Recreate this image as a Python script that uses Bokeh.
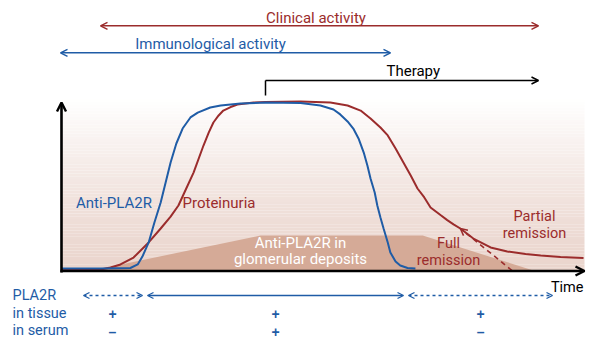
import numpy as np
from bokeh.plotting import figure
from bokeh.models import Range1d, Arrow, OpenHead, Label, ColumnDataSource
from bokeh.embed import file_html
from bokeh.resources import INLINE

# ---------------- data (time 0..100, level 0..100) ----------------
anti_time = [0, 7.5, 13.2, 14.6, 15.5, 16.7, 17.8, 19.0, 20.9, 22.0, 23.2, 24.7, 26.1,
             28.5, 30.5, 34.3, 39.1, 45.8, 49.6, 52.1, 53.4, 54.8, 55.9, 56.9, 57.9,
             58.6, 59.2, 60.0, 60.5, 61.1, 61.7, 62.5, 63.0, 64.0, 64.9, 66.3, 67.8]
anti_level = [1.2, 1.2, 1.5, 3.6, 8.3, 16.7, 28.6, 40.5, 64.3, 75.6, 84.5, 91.1, 94.0,
              97.0, 98.2, 99.4, 100, 99.7, 98.2, 95.8, 92.9, 88.7, 84.5, 78.6, 70.2,
              62.5, 54.8, 46.4, 38.7, 31.5, 25.0, 16.7, 10.7, 5.4, 3.0, 1.5, 1.2]

prot_time = [0, 7.5, 9.4, 11.3, 13.8, 16.7, 19.0, 20.9, 22.4, 23.9, 25.3, 27.2, 28.2,
             29.1, 30.1, 31.0, 32.4, 33.7, 36.8, 39.1, 45.8, 51.5, 54.8, 57.3, 59.2,
             61.1, 62.5, 64.0, 65.5, 66.9, 68.2, 69.5, 70.7, 72.6, 73.9, 75.1, 76.4,
             78.9, 82.2, 85.4, 88.9, 91.8, 95.6, 100]
prot_level = [0.3, 0.6, 1.8, 3.6, 7.7, 16.7, 25.0, 32.1, 38.7, 48.8, 58.3, 74.4, 82.1,
              88.1, 92.3, 95.2, 97.3, 98.8, 100, 100.3, 100.6, 100, 98.2, 95.2, 90.5,
              85.1, 80.4, 72.6, 64.3, 56.5, 48.8, 43.5, 37.5, 33.0, 30.0, 27.5, 25.0,
              19.0, 13.7, 11.3, 9.8, 8.9, 8.0, 7.4]

full_remission_time = [76.4, 86.3]
full_remission_level = [25.0, 0.0]

deposit_time = [5.9, 38.1, 69.2, 90.4]
deposit_level = [0, 20.8, 20.8, 0]

tissue_marks = ["+", "+", "+"]
serum_marks = ["\u2013", "+", "\u2013"]
mark_time = [9.77, 41.0, 80.3]

# ---------------- layout helpers (pixel -> data) ----------------
X0, XS = 61.0, 5.22
Y0, YS = 270.0, 1.68
def X(px): return (px - X0) / XS
def Y(py): return (Y0 - py) / YS

RED = "#9b2c2c"
BLUE = "#1f5ca6"
DEP = "#d5aa97"
FONT = "Roboto"
LOFF = 4.5  # label baseline correction in px

p = figure(width=600, height=356, output_backend="svg", toolbar_location=None,
           x_range=Range1d(X(0), X(600)), y_range=Range1d(Y(356), Y(0)),
           min_border=0, min_border_left=0, min_border_right=0,
           min_border_top=0, min_border_bottom=0)
p.axis.visible = False
p.grid.visible = False
p.outline_line_color = None
p.background_fill_color = "white"
p.border_fill_color = "white"

# background gradient
n = 60
edges = np.linspace(0, 102, n + 1)
bot = np.array([234, 213, 205])
cols = []
for i in range(n):
    f = (edges[i] + edges[i + 1]) / 2 / 102.0
    w = f ** 1.3
    c = bot + (np.array([255, 255, 255]) - bot) * w
    cols.append("#%02x%02x%02x" % tuple(int(round(v)) for v in c))
p.quad(left=X(61), right=X(584), bottom=edges[:-1], top=edges[1:],
       fill_color=cols, line_color=None)

# deposits
p.patch(deposit_time, deposit_level, fill_color=DEP, line_color=None)

def lab(x, ypx, t, color, size="14.5px", align="center"):
    p.add_layout(Label(x=x, y=Y(ypx - LOFF), text=t, text_color=color, text_font=FONT,
                       text_font_size=size, text_align=align, text_baseline="alphabetic"))

lab(X(300), 247, "Anti-PLA2R in", "white", size="15px")
lab(X(300), 263, "glomerular deposits", "white", size="15px")

# curves
p.line(prot_time, prot_level, line_color=RED, line_width=2)
p.line(anti_time, anti_level, line_color=BLUE, line_width=2)
p.add_layout(Arrow(x_start=full_remission_time[1], y_start=full_remission_level[1],
                   x_end=full_remission_time[0], y_end=full_remission_level[0],
                   line_color=RED, line_width=1.6, line_dash="5 4",
                   end=OpenHead(size=7, line_color=RED, line_width=1.5)))

# axes
p.add_layout(Arrow(x_start=X(61), y_start=Y(272), x_end=X(61), y_end=Y(102),
                   line_color="black", line_width=2.6,
                   end=OpenHead(size=9, line_color="black", line_width=2.4)))
p.add_layout(Arrow(x_start=X(60), y_start=Y(270.5), x_end=X(584), y_end=Y(270.5),
                   line_color="black", line_width=2.6,
                   end=OpenHead(size=9, line_color="black", line_width=2.4)))
lab(X(583), 291, "Time", "black", align="right")

# top arrows
def darrow(x1, x2, y, color, dash="solid", lw=1.5, size=7):
    p.add_layout(Arrow(x_start=x1, y_start=y, x_end=x2, y_end=y,
                       line_color=color, line_width=lw, line_dash=dash,
                       start=OpenHead(size=size, line_color=color, line_width=lw),
                       end=OpenHead(size=size, line_color=color, line_width=lw)))

darrow(X(100), X(538), Y(25.3), RED)
lab(X(315.5), 21.5, "Clinical activity", RED, size="15px")
darrow(X(60), X(390), Y(52.3), BLUE)
lab(X(210), 48.3, "Immunological activity", BLUE, size="15px")

# therapy
p.line([X(265), X(265)], [Y(95), Y(80)], line_color="black", line_width=1.5)
p.add_layout(Arrow(x_start=X(265), y_start=Y(80), x_end=X(538), y_end=Y(80),
                   line_color="black", line_width=1.5,
                   end=OpenHead(size=7, line_color="black", line_width=1.5)))
lab(X(386), 75, "Therapy", "black", align="left", size="15px")

# curve labels
lab(X(113.5), 207, "Anti-PLA2R", BLUE, size="15px")
lab(X(218.5), 207, "Proteinuria", RED, size="15px")
lab(X(448), 247, "Full", RED)
lab(X(448), 264, "remission", RED)
lab(X(534), 220, "Partial", RED)
lab(X(534), 237, "remission", RED)

# bottom PLA2R rows
lab(X(12), 299, "PLA2R", BLUE, align="left")
lab(X(12), 317, "in tissue", BLUE, align="left")
lab(X(12), 334, "in serum", BLUE, align="left")
darrow(X(83), X(142), Y(295), BLUE, dash="3 3", lw=1.3, size=6)
darrow(X(147), X(403), Y(295), BLUE, lw=1.3, size=6)
darrow(X(408), X(552), Y(295), BLUE, dash="3 3", lw=1.3, size=6)
src = ColumnDataSource(dict(x=mark_time, t=tissue_marks, s=serum_marks,
                            yt=[Y(313)] * 3, ys=[Y(331)] * 3))
p.text(x="x", y="yt", text="t", source=src, text_color=BLUE, text_font_size="14px",
       text_font_style="bold", text_align="center", text_baseline="middle")
p.text(x="x", y="ys", text="s", source=src, text_color=BLUE, text_font_size="14px",
       text_font_style="bold", text_align="center", text_baseline="middle")

open("out.html", "w").write(file_html(p, INLINE))
